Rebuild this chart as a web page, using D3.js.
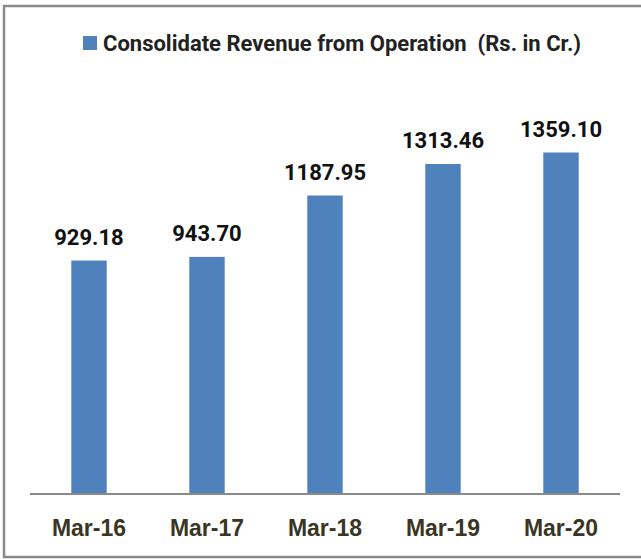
<!DOCTYPE html>
<html>
<head>
<meta charset="utf-8">
<script src="https://cdn.jsdelivr.net/npm/d3@7"></script>
<style>
  body { margin: 0; background: #fff; }
  svg { display: block; font-family: Roboto, "Open Sans", sans-serif; }
</style>
</head>
<body>
<div id="chart"></div>
<script>
// chart data
const categories = ["Mar-16", "Mar-17", "Mar-18", "Mar-19", "Mar-20"];
const revenue = [929.18, 943.70, 1187.95, 1313.46, 1359.10];
const seriesName = "Consolidate Revenue from Operation  (Rs. in Cr.)";

const width = 641, height = 559;
const margin = {top: 92, right: 21, bottom: 65, left: 30};

const svg = d3.select("#chart").append("svg")
    .attr("width", width)
    .attr("height", height);

// outer frame (no right edge visible in the original)
svg.append("path")
    .attr("d", `M${width},6 H4 V557 H${width}`)
    .attr("fill", "none")
    .attr("stroke", "#8a8a8a")
    .attr("stroke-width", 2.5);

const x = d3.scaleBand()
    .domain(categories)
    .range([margin.left, width - margin.right])
    .paddingInner(0.7)
    .paddingOuter(0.35);

const y = d3.scaleLinear()
    .domain([0, 1600])
    .range([height - margin.bottom, margin.top]);

const data = categories.map((c, i) => ({cat: c, value: revenue[i]}));

// bars
svg.append("g")
    .selectAll("rect")
    .data(data)
    .enter()
    .append("rect")
    .attr("x", d => x(d.cat))
    .attr("y", d => y(d.value))
    .attr("width", x.bandwidth())
    .attr("height", d => y(0) - y(d.value))
    .attr("fill", "#4f81bd");

// value labels
svg.append("g")
    .selectAll("text")
    .data(data)
    .enter()
    .append("text")
    .attr("x", d => x(d.cat) + x.bandwidth() / 2)
    .attr("y", d => y(d.value) - 16)
    .attr("text-anchor", "middle")
    .attr("font-size", 22)
    .attr("font-weight", "bold")
    .attr("fill", "#111")
    .text(d => d.value.toFixed(2));

// x axis
const xAxis = svg.append("g")
    .attr("transform", `translate(0,${y(0)})`)
    .call(d3.axisBottom(x).tickSize(0).tickPadding(26));

xAxis.select(".domain")
    .attr("d", `M${margin.left},0H${width - margin.right}`)
    .attr("stroke", "#8a8a8a")
    .attr("stroke-width", 2);

xAxis.selectAll("text")
    .attr("font-size", 23)
    .attr("font-weight", "bold")
    .attr("fill", "#3b3524")
    .style("font-family", "inherit");

// legend
const legend = svg.append("g").attr("transform", "translate(83,36)");
legend.append("rect")
    .attr("width", 14)
    .attr("height", 14)
    .attr("fill", "#4f81bd");
legend.append("text")
    .attr("x", 20)
    .attr("y", 14.5)
    .attr("font-size", 22)
    .attr("font-weight", "bold")
    .attr("fill", "#222")
    .attr("xml:space", "preserve")
    .style("white-space", "pre")
    .text(seriesName);
</script>
</body>
</html>
